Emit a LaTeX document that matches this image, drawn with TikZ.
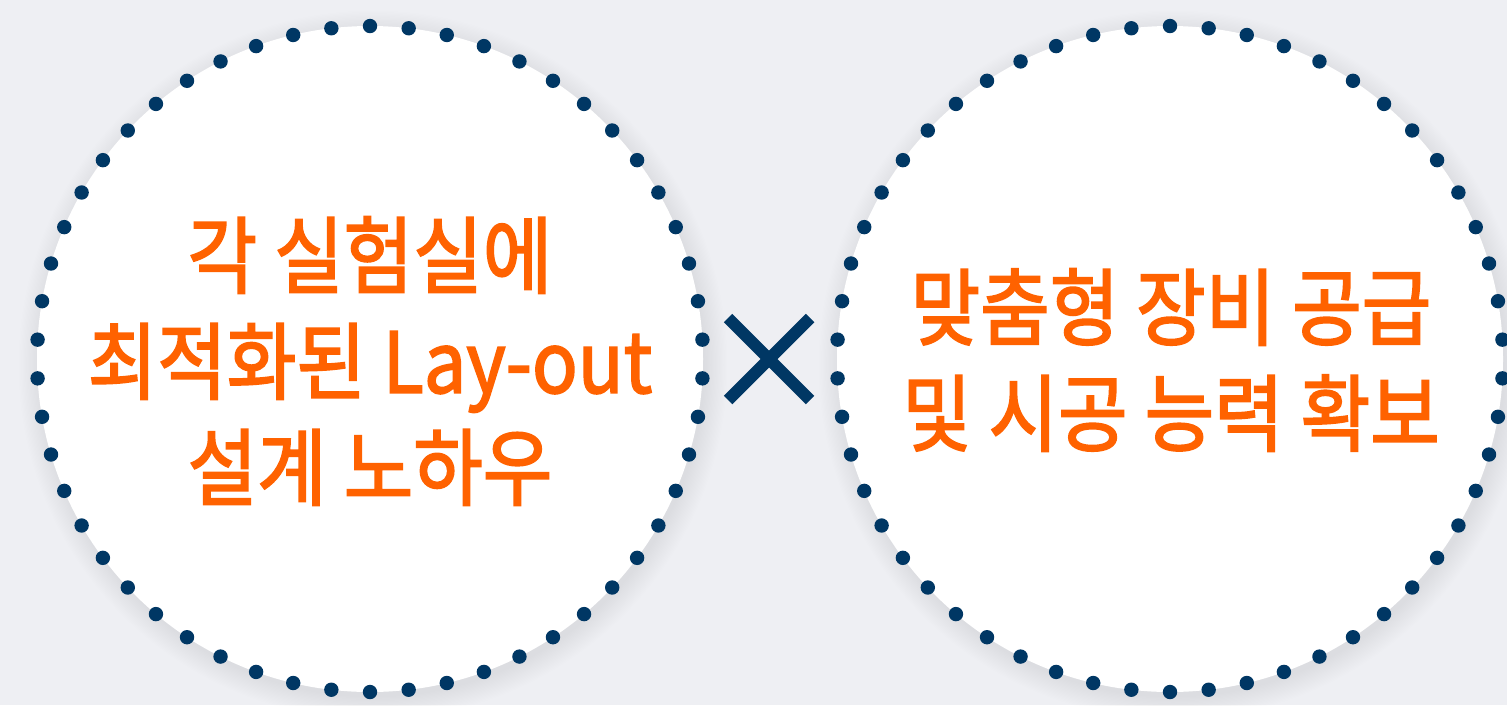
\documentclass[tikz,border=0pt]{standalone}
\usepackage{fontspec}
\usetikzlibrary{calc}
\newfontfamily\kr[FakeBold=2.2]{Noto Sans CJK KR}
\definecolor{bg}{HTML}{EEEFF3}
\definecolor{navy}{HTML}{003764}
\definecolor{org}{HTML}{FF6200}
\tikzset{
  bigcirc/.style={circle, fill=white, minimum size=666pt, inner sep=0pt, outer sep=0pt, draw=none},
  maintext/.style={text=org, align=center, font=\kr\fontsize{84}{106}\selectfont, inner sep=0pt, xscale=0.9, transform shape},
  dotc/.style={fill=navy},
  crossline/.style={draw=navy, line width=12pt}
}
\begin{document}
\begin{tikzpicture}[x=1pt,y=-1pt]
\fill[bg] (0,0) rectangle (1507,705);
\useasboundingbox (0,0) rectangle (1507,705);
% soft shadows
\foreach \cx in {373,1173}{
  \foreach \i in {1,...,18}{
    \fill[black, opacity=0.0055] (\cx,365) circle ({331+\i*1.3});
  }
}
\node[bigcirc] (L) at (370,359) {};
\node[bigcirc] (R) at (1170,359) {};
\foreach \k in {0,...,53}{
  \pgfmathsetmacro{\a}{90+\k*(20/3)}
  \fill[dotc] ($(L)+(\a:333)$) circle (7.2);
  \fill[dotc] ($(R)+(\a:333)$) circle (7.2);
}
\coordinate (X) at (769,359);
\draw[crossline] ($(X)+(-41,-41)$) -- ($(X)+(41,41)$);
\draw[crossline] ($(X)+(-41,41)$) -- ($(X)+(41,-41)$);
\node[maintext] (lt) at (370,361) {각 실험실에\\최적화된 Lay-out\\설계 노하우};
\node[maintext] (rt) at (1171,360) {맞춤형 장비 공급\\및 시공 능력 확보};
\end{tikzpicture}
\end{document}
